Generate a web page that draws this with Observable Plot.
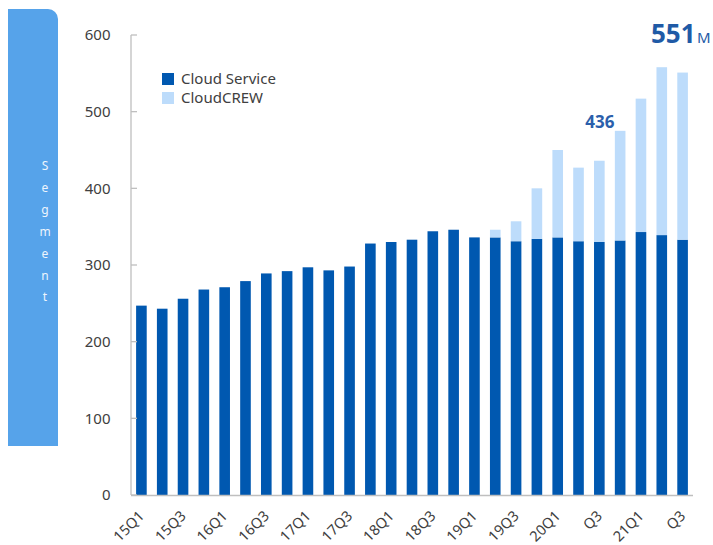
<!DOCTYPE html>
<html>
<head>
<meta charset="utf-8">
<script src="https://cdn.jsdelivr.net/npm/d3@7"></script>
<script src="https://cdn.jsdelivr.net/npm/@observablehq/plot@0.6"></script>
<style>
  html, body { margin: 0; padding: 0; background: #fff; }
  #wrap { position: relative; width: 713px; height: 545px; font-family: "Noto Sans", sans-serif; }
  #panel { position: absolute; left: 8px; top: 9px; width: 50px; height: 437px;
           background: #56a3ea; border-top-right-radius: 10px; }
  #panel span { position: absolute; left: 0; width: 74px; text-align: center; color: #eef5fd;
                font-size: 12px; line-height: 12px; margin-left: 0; }
  #legend { position: absolute; left: 162px; top: 71px; font-size: 15px; color: #404040; line-height: 15px; }
  #legend div { display: flex; align-items: center; height: 15px; margin-bottom: 4px; }
  #legend i { display: inline-block; width: 12px; height: 12px; margin-right: 7px; }
</style>
</head>
<body>
<div id="wrap">
  <div id="chart"></div>
  <div id="panel"></div>
  <div id="legend"></div>
</div>
<script>
const quarters = ["15Q1","15Q2","15Q3","15Q4","16Q1","16Q2","16Q3","16Q4","17Q1","17Q2","17Q3","17Q4",
                  "18Q1","18Q2","18Q3","18Q4","19Q1","19Q2","19Q3","19Q4","20Q1","20Q2","20Q3","20Q4",
                  "21Q1","21Q2","21Q3"];
const tickLabels = ["15Q1","","15Q3","","16Q1","","16Q3","","17Q1","","17Q3","",
                    "18Q1","","18Q3","","19Q1","","19Q3","","20Q1","","Q3","",
                    "21Q1","","Q3"];
const cloudService = [247,243,256,268,271,279,289,292,297,293,298,328,
                      330,333,344,346,336,336,331,334,336,331,330,332,
                      343,339,333];
const cloudCrew = [0,0,0,0,0,0,0,0,0,0,0,0,
                   0,0,0,0,0,10,26,66,114,96,106,143,
                   174,219,218];
const seriesNames = ["Cloud Service","CloudCREW"];
const seriesColors = ["#0058b0","#bddcfb"];
const yTicks = [0,100,200,300,400,500,600];
const calloutMid = {q: "20Q3", value: 436};
const calloutEnd = {q: "21Q3", value: 551, unit: "M"};
const panelLetters = "Segment".split("");

const data = quarters.flatMap((q, i) => [
  {q, series: seriesNames[0], value: cloudService[i]},
  {q, series: seriesNames[1], value: cloudCrew[i]}
]);

const axisLines = (index, scales, values, dims) => {
  const g = d3.create("svg:g").attr("stroke", "#bfbfbf").attr("stroke-width", 1.3);
  const x0 = dims.marginLeft;
  g.append("line").attr("x1", x0).attr("x2", x0)
    .attr("y1", scales.y(600)).attr("y2", scales.y(0));
  for (const t of yTicks) {
    g.append("line").attr("x1", x0).attr("x2", x0 + 6)
      .attr("y1", scales.y(t)).attr("y2", scales.y(t));
  }
  return g.node();
};

const chart = Plot.plot({
  width: 713,
  height: 545,
  marginLeft: 131,
  marginRight: 20,
  marginTop: 35,
  marginBottom: 50,
  style: {fontFamily: "Noto Sans, sans-serif", color: "#404040", background: "transparent"},
  x: {domain: quarters, paddingInner: 0.49, paddingOuter: 0.245, round: false},
  y: {domain: [0, 600]},
  color: {domain: seriesNames, range: seriesColors},
  marks: [
    Plot.barY(data, {x: "q", y: "value", fill: "series"}),
    Plot.ruleY([0], {stroke: "#bfbfbf", strokeWidth: 1.3}),
    axisLines,
    Plot.axisY({ticks: yTicks, tickSize: 0, tickPadding: 21, fontSize: 15, label: null}),
    Plot.axisX({tickSize: 0, tickPadding: 18, tickRotate: -45, fontSize: 14.5, label: null,
                tickFormat: d => tickLabels[quarters.indexOf(d)]}),
    Plot.text([calloutMid], {x: "q", y: "value", text: d => String(d.value), dy: -33,
               lineAnchor: "bottom", fontSize: 17, fontWeight: "bold", fill: "#2b5fab"}),
    Plot.text([calloutEnd], {x: "q", y: "value", text: d => String(d.value), dy: -30, dx: 12.5,
               textAnchor: "end", lineAnchor: "bottom", fontSize: 26, fontWeight: "bold", fill: "#1f5aa6"}),
    Plot.text([calloutEnd], {x: "q", y: "value", text: "unit", dy: -30, dx: 14,
               textAnchor: "start", lineAnchor: "bottom", fontSize: 15, fill: "#1f5aa6"})
  ]
});
document.getElementById("chart").append(chart);

const panel = document.getElementById("panel");
panelLetters.forEach((ch, i) => {
  const s = document.createElement("span");
  s.textContent = ch;
  s.style.top = (151 + i * 21.9) + "px";
  s.style.left = "0px";
  s.style.width = "74px";
  panel.append(s);
});

const legend = document.getElementById("legend");
seriesNames.forEach((name, i) => {
  const row = document.createElement("div");
  const sw = document.createElement("i");
  sw.style.background = seriesColors[i];
  row.append(sw, document.createTextNode(name));
  legend.append(row);
});
</script>
</body>
</html>
